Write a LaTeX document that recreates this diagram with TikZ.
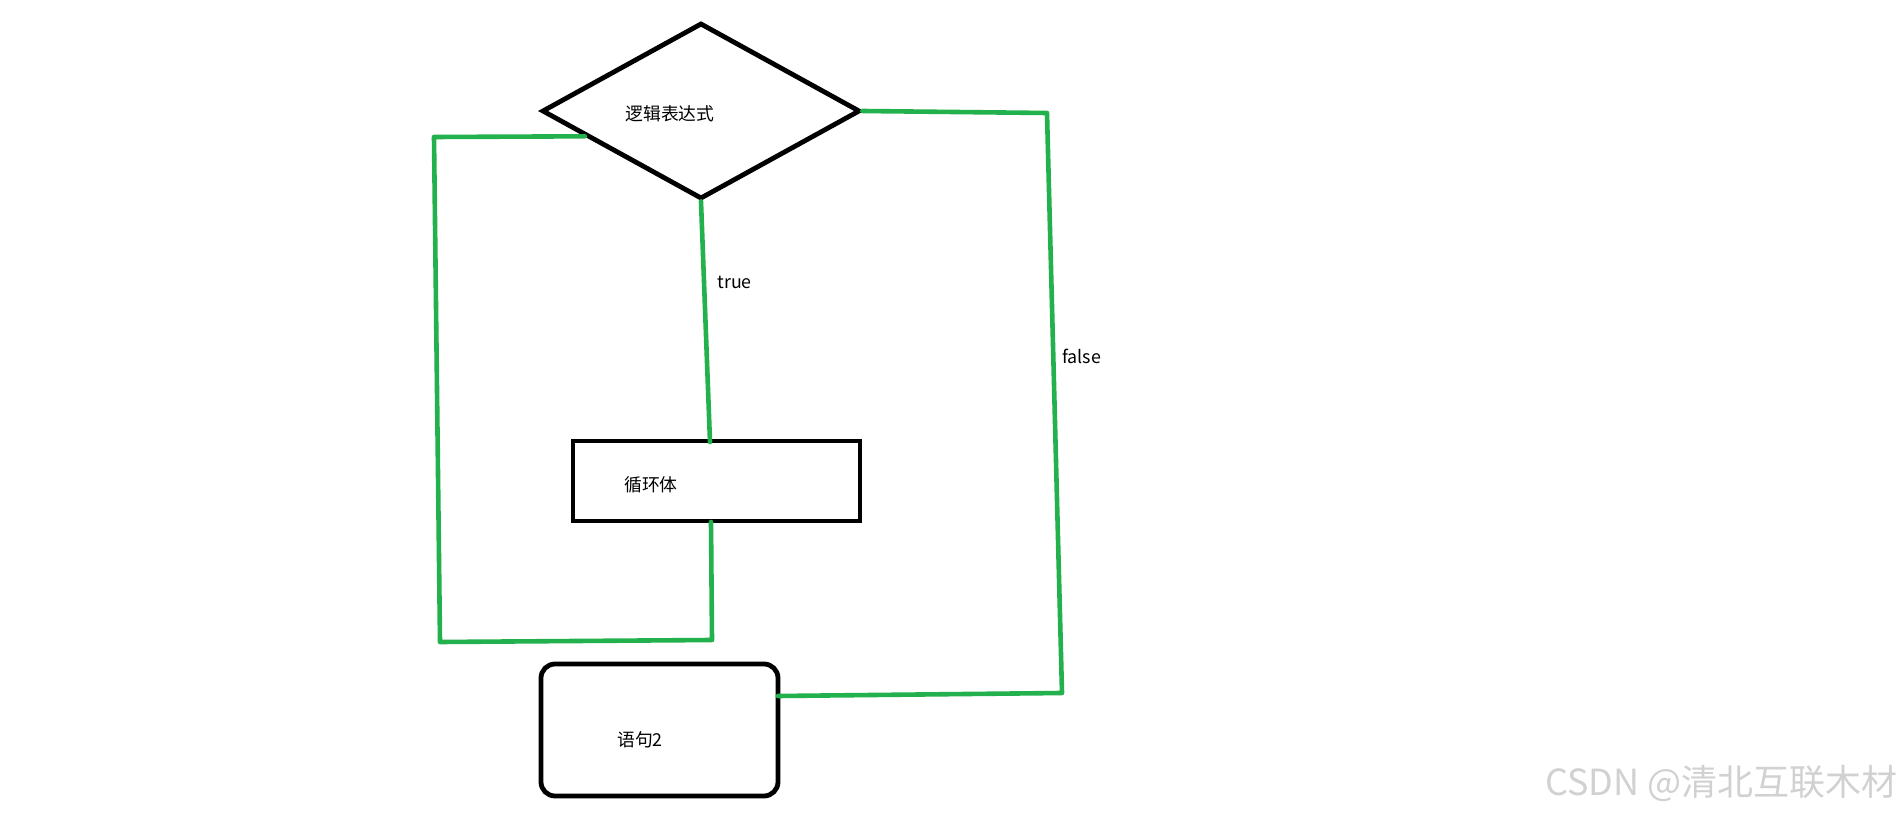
\documentclass[tikz,border=0pt]{standalone}
\usepackage{fontspec}
\setmainfont{Noto Sans CJK SC}
\usetikzlibrary{shapes.geometric,calc}
\definecolor{paintgreen}{HTML}{22B14C}
\tikzset{
  blk/.style={draw=black,line width=2.4pt},
  conn/.style={draw=paintgreen,line width=2.3pt,line cap=round,line join=round},
  lbl/.style={inner sep=0pt,font=\fontsize{8.9pt}{10pt}\selectfont},
  wm/.style={inner sep=0pt,text=black!18,font=\fontsize{18pt}{21pt}\selectfont}
}
\begin{document}
\begin{tikzpicture}[x=0.5pt,y=-0.5pt]
\useasboundingbox (0,0) rectangle (1903,818);
% shapes
\node[blk,diamond,minimum width=159pt,minimum height=88pt,inner sep=0pt] (cond) at (701,111) {};
\node[lbl] (condtxt) at (670,114) {逻辑表达式};
\node[blk,rectangle,minimum width=143.5pt,minimum height=40pt,inner sep=0pt] (body) at (716.5,481) {};
\node[lbl] (bodytxt) at (651,485) {循环体};
\node[blk,rectangle,rounded corners=7pt,minimum width=118.5pt,minimum height=66pt,inner sep=0pt] (stmt) at (659.5,730) {};
\node[lbl] (stmttxt) at (640,740) {语句2};
% helper coordinates
\coordinate (lstart) at ($(cond.west)!0.28!(cond.south)$);
\coordinate (ltop) at (434,137);
\coordinate (lbot) at (440,642);
\coordinate (rbot) at (712,640);
\coordinate (btop) at (710,442);
\coordinate (bbot) at (711,522);
\coordinate (ftop) at (1047,113);
\coordinate (fbot) at (1062,693);
\coordinate (send) at (778,696);
% connectors
\draw[conn] (cond.south) -- (btop);
\draw[conn] (bbot) -- (rbot) -- (lbot) -- (ltop) -- (lstart);
\draw[conn] (cond.east) -- (ftop) -- (fbot) -- (send);
% labels
\node[lbl,anchor=west] (truelbl) at (717,282) {true};
\node[lbl,anchor=west] (falselbl) at (1062,356) {false};
% watermark
\node[wm,anchor=east] (mark) at (1898,783) {CSDN @清北互联木材};
\end{tikzpicture}
\end{document}
